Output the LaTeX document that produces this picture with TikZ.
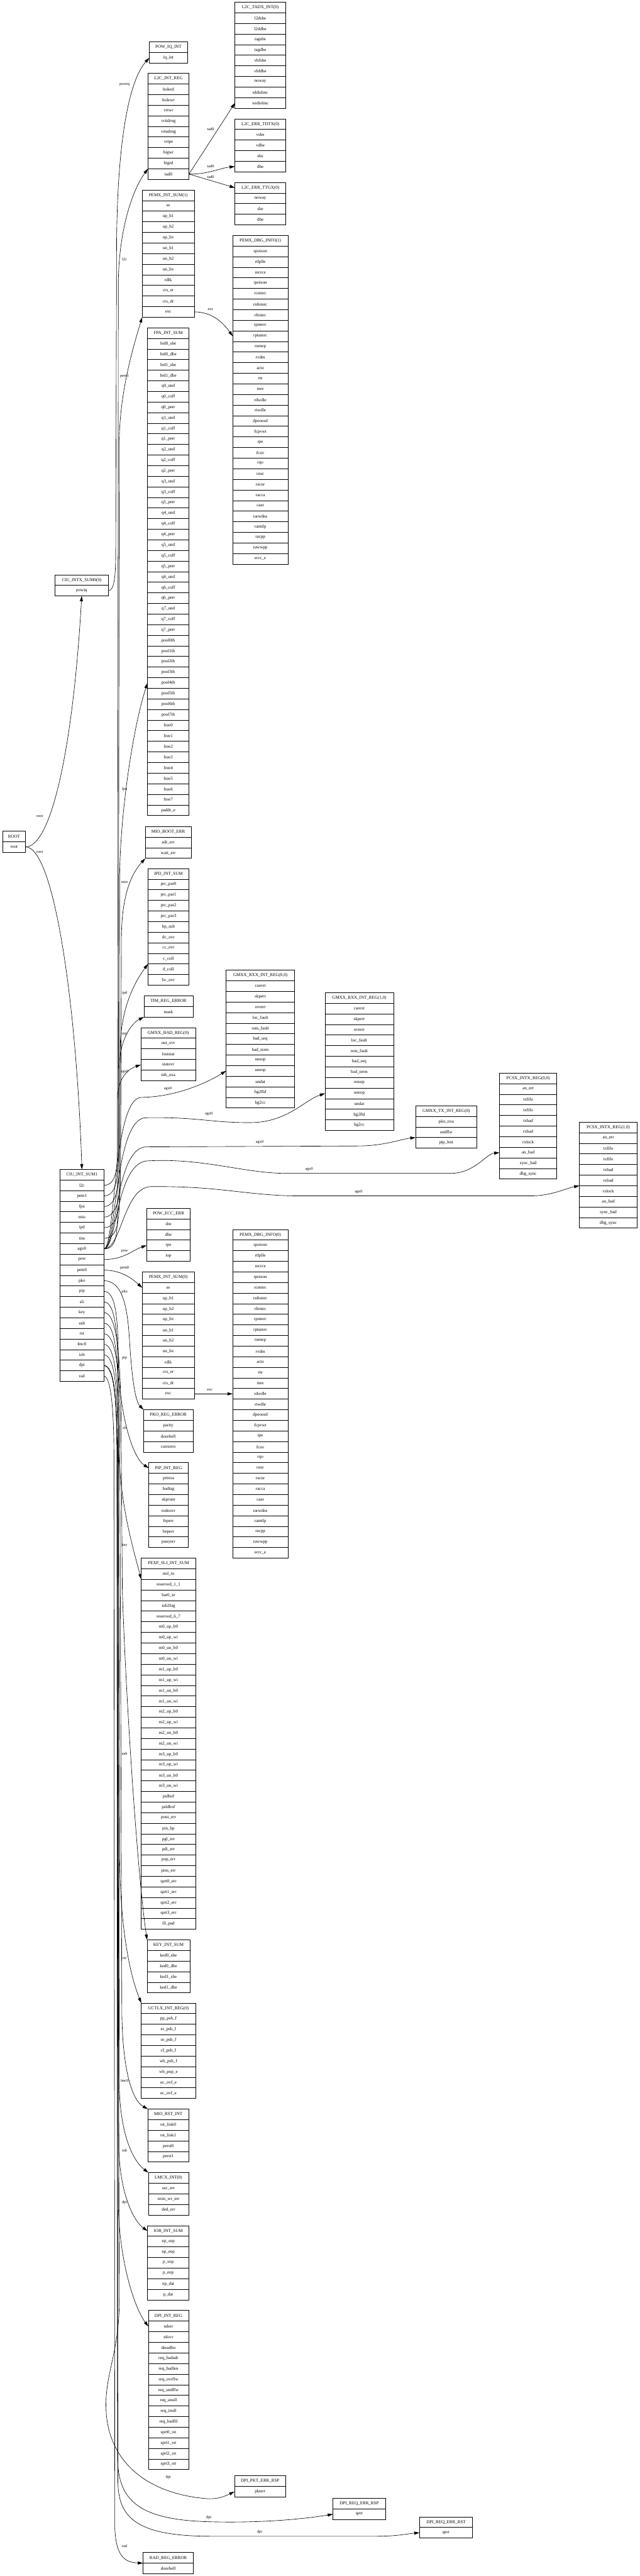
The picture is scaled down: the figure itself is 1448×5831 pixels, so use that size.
\documentclass[tikz,border=0pt]{standalone}
\usepackage{fontspec}
\setmainfont{Liberation Serif}
\usetikzlibrary{arrows.meta}

% record box: name, top-left corner, width, header, fields
\newcommand\regnode[5]{%
  \node[field,minimum width=#3pt,anchor=north west] (#1-0) at (#2) {#4};
  \foreach \f [count=\i] in {#5}{%
    \pgfmathtruncatemacro\prv{\i-1}%
    \node[field,minimum width=#3pt,anchor=north] (#1-\i) at (#1-\prv.south) {\f};
  }%
}

\begin{document}
\begin{tikzpicture}[
  x=1pt,y=-1pt,
  field/.style={draw,line width=1.1pt,inner sep=0pt,outer sep=0pt,minimum height=24pt,
    font=\fontsize{10}{12}\selectfont},
  wire/.style={draw,line width=.9pt,-{Triangle[length=12pt,width=7pt]}},
  wlbl/.style={font=\fontsize{9}{10}\selectfont,inner sep=0pt}
]
  \path[use as bounding box,fill=white] (0,0) rectangle (1448,5831);

  \regnode{root}{6,1881}{52}{ROOT}{root}
  \regnode{ciu0}{125,1301}{120}{CIU\_INTX\_SUM0(0)}{powiq}
  \regnode{ciu1}{136,2647}{99}{CIU\_INT\_SUM1}{l2c,pem1,fpa,mio,ipd,tim,agx0,pow,pem0,pko,pip,sli,key,usb,rst,lmc0,iob,dpi,rad}

  \regnode{powiq}{338,95}{87}{POW\_IQ\_INT}{iq\_int}
  \regnode{l2c}{335,166}{93}{L2C\_INT\_REG}{holerd,holewr,vrtwr,vrtidrng,vrtadrng,vrtpe,bigwr,bigrd,tad0}
  \regnode{tadx}{532,5}{115}{L2C\_TADX\_INT(0)}{l2dsbe,l2ddbe,tagsbe,tagdbe,vbfsbe,vbfdbe,noway,rddislmc,wrdislmc}
  \regnode{tdtx}{532,269}{115}{L2C\_ERR\_TDTX(0)}{vsbe,vdbe,sbe,dbe}
  \regnode{ttgx}{532,413}{115}{L2C\_ERR\_TTGX(0)}{noway,sbe,dbe}
  \regnode{pemi1}{322,430}{118}{PEMX\_INT\_SUM(1)}{se,up\_b1,up\_b2,up\_bx,un\_b1,un\_b2,un\_bx,rdlk,crs\_er,crs\_dr,exc}
  \regnode{pemd1}{527,533}{125}{PEMX\_DBG\_INFO(1)}{spoison,rtlplle,recrce,rpoison,rcemrc,rnfemrc,rfemrc,rpmerc,rptamrc,rumep,rvdm,acto,rte,mre,rdwdle,rtwdle,dpeoosd,fcpvwt,rpe,fcuv,rqo,rauc,racur,racca,caar,rarwdns,ramtlp,racpp,rawwpp,ecrc\_e}
  \regnode{fpa}{334,742}{94}{FPA\_INT\_SUM}{fed0\_sbe,fed0\_dbe,fed1\_sbe,fed1\_dbe,q0\_und,q0\_coff,q0\_perr,q1\_und,q1\_coff,q1\_perr,q2\_und,q2\_coff,q2\_perr,q3\_und,q3\_coff,q3\_perr,q4\_und,q4\_coff,q4\_perr,q5\_und,q5\_coff,q5\_perr,q6\_und,q6\_coff,q6\_perr,q7\_und,q7\_coff,q7\_perr,pool0th,pool1th,pool2th,pool3th,pool4th,pool5th,pool6th,pool7th,free0,free1,free2,free3,free4,free5,free6,free7,paddr\_e}
  \regnode{mioboot}{329,1871}{104}{MIO\_BOOT\_ERR}{adr\_err,wait\_err}
  \regnode{ipd}{335,1966}{93}{IPD\_INT\_SUM}{prc\_par0,prc\_par1,prc\_par2,prc\_par3,bp\_sub,dc\_ovr,cc\_ovr,c\_coll,d\_coll,bc\_ovr}
  \regnode{tim}{326,2254}{111}{TIM\_REG\_ERROR}{mask}
  \regnode{gbad}{319,2326}{124}{GMXX\_BAD\_REG(0)}{out\_ovr,loststat,statovr,inb\_nxa}
  \regnode{gmxrx0}{512,2196}{155}{GMXX\_RXX\_INT\_REG(0,0)}{carext,skperr,ovrerr,loc\_fault,rem\_fault,bad\_seq,bad\_term,unsop,uneop,undat,hg2fld,hg2cc}
  \regnode{gmxrx1}{736,2247}{155}{GMXX\_RXX\_INT\_REG(1,0)}{carext,skperr,ovrerr,loc\_fault,rem\_fault,bad\_seq,bad\_term,unsop,uneop,undat,hg2fld,hg2cc}
  \regnode{gmxtx}{941,2503}{139}{GMXX\_TX\_INT\_REG(0)}{pko\_nxa,undflw,ptp\_lost}
  \regnode{pcs0}{1131,2429}{130}{PCSX\_INTX\_REG(0,0)}{an\_err,txfifu,txfifo,txbad,rxbad,rxlock,an\_bad,sync\_bad,dbg\_sync}
  \regnode{pcs1}{1312,2540}{131}{PCSX\_INTX\_REG(1,0)}{an\_err,txfifu,txfifo,txbad,rxbad,rxlock,an\_bad,sync\_bad,dbg\_sync}
  \regnode{powecc}{332,2735}{99}{POW\_ECC\_ERR}{sbe,dbe,rpe,iop}
  \regnode{pemi0}{322,2879}{118}{PEMX\_INT\_SUM(0)}{se,up\_b1,up\_b2,up\_bx,un\_b1,un\_b2,un\_bx,rdlk,crs\_er,crs\_dr,exc}
  \regnode{pemd0}{527,2783}{125}{PEMX\_DBG\_INFO(0)}{spoison,rtlplle,recrce,rpoison,rcemrc,rnfemrc,rfemrc,rpmerc,rptamrc,rumep,rvdm,acto,rte,mre,rdwdle,rtwdle,dpeoosd,fcpvwt,rpe,fcuv,rqo,rauc,racur,racca,caar,rarwdns,ramtlp,racpp,rawwpp,ecrc\_e}
  \regnode{pko}{325,3191}{112}{PKO\_REG\_ERROR}{parity,doorbell,currzero}
  \regnode{pip}{337,3311}{89}{PIP\_INT\_REG}{prtnxa,badtag,skprunt,todoovr,feperr,beperr,punyerr}
  \regnode{sli}{320,3527}{123}{PEXP\_SLI\_INT\_SUM}{rml\_to,reserved\_1\_1,bar0\_to,iob2big,reserved\_6\_7,m0\_up\_b0,m0\_up\_wi,m0\_un\_b0,m0\_un\_wi,m1\_up\_b0,m1\_up\_wi,m1\_un\_b0,m1\_un\_wi,m2\_up\_b0,m2\_up\_wi,m2\_un\_b0,m2\_un\_wi,m3\_up\_b0,m3\_up\_wi,m3\_un\_b0,m3\_un\_wi,pidbof,psldbof,pout\_err,pin\_bp,pgl\_err,pdi\_err,pop\_err,pins\_err,sprt0\_err,sprt1\_err,sprt2\_err,sprt3\_err,ill\_pad}
  \regnode{key}{333,4391}{97}{KEY\_INT\_SUM}{ked0\_sbe,ked0\_dbe,ked1\_sbe,ked1\_dbe}
  \regnode{uctl}{320,4534}{123}{UCTLX\_INT\_REG(0)}{pp\_psh\_f,er\_psh\_f,or\_psh\_f,cf\_psh\_f,wb\_psh\_f,wb\_pop\_e,oc\_ovf\_e,ec\_ovf\_e}
  \regnode{miorst}{335,4774}{92}{MIO\_RST\_INT}{rst\_link0,rst\_link1,perst0,perst1}
  \regnode{lmc}{336,4918}{91}{LMCX\_INT(0)}{sec\_err,nxm\_wr\_err,ded\_err}
  \regnode{iob}{334,5038}{94}{IOB\_INT\_SUM}{np\_sop,np\_eop,p\_sop,p\_eop,np\_dat,p\_dat}
  \regnode{dpi}{336,5230}{91}{DPI\_INT\_REG}{nderr,nfovr,dmadbo,req\_badadr,req\_badlen,req\_ovrflw,req\_undflw,req\_anull,req\_inull,req\_badfil,sprt0\_rst,sprt1\_rst,sprt2\_rst,sprt3\_rst}
  \regnode{pkterr}{531,5604}{116}{DPI\_PKT\_ERR\_RSP}{pkterr}
  \regnode{reqrsp}{754,5655}{119}{DPI\_REQ\_ERR\_RSP}{qerr}
  \regnode{reqrst}{950,5697}{120}{DPI\_REQ\_ERR\_RST}{qerr}
  \regnode{rad}{324,5778}{114}{RAD\_REG\_ERROR}{doorbell}

  \draw[wire] (root-1.east) .. controls (115,1917) and (165,1700) .. (ciu0-1.south);
  \draw[wire] (root-1.east) .. controls (120,1917) and (172,2250) .. (ciu1-0.north);
  \draw[wire] (ciu0-1.east) .. controls (258,1337) and (262,1310) .. (262,1250)
    -- (264,560) .. controls (265,330) and (290,185) .. (powiq-1.west);
  \draw[wire] (ciu1-1.east) .. controls (258,2683) and (266,2660) .. (266,2600)
    -- (268,640) .. controls (269,520) and (300,430) .. (l2c-8.south west);
  \draw[wire] (ciu1-2.east) .. controls (258,2707) and (268,2680) .. (268,2620)
    -- (270,1000) .. controls (271,890) and (300,790) .. (pemi1-11.south west);
  \draw[wire] (ciu1-3.east) .. controls (258,2731) and (270,2700) .. (270,2640)
    -- (271,1990) .. controls (271,1850) and (300,1650) .. (fpa-33.west);
  \draw[wire] (ciu1-4.east) .. controls (260,2755) and (273,2720) .. (273,2660)
    -- (275,2120) .. controls (276,2020) and (300,1975) .. (mioboot-2.south west);
  \draw[wire] (ciu1-5.east) .. controls (260,2779) and (272,2750) .. (272,2690)
    -- (272,2380) .. controls (272,2290) and (300,2230) .. (ipd-8.south west);
  \draw[wire] (ciu1-6.east) .. controls (260,2803) and (270,2780) .. (270,2720)
    -- (270,2420) .. controls (270,2350) and (300,2315) .. (tim-1.south west);
  \draw[wire] (ciu1-7.east) .. controls (262,2827) and (266,2800) .. (266,2740)
    -- (266,2490) .. controls (266,2440) and (290,2420) .. (gbad-3.west);
  \draw[wire] (ciu1-7.east) .. controls (262,2827) and (255,2485) .. (320,2484)
    .. controls (400,2483) and (470,2450) .. (gmxrx0-9.west);
  \draw[wire] (ciu1-7.east) .. controls (265,2827) and (258,2532) .. (330,2530)
    .. controls (450,2528) and (480,2542) .. (570,2541)
    .. controls (650,2540) and (690,2490) .. (gmxrx1-9.west);
  \draw[wire] (ciu1-7.east) .. controls (265,2827) and (260,2600) .. (330,2596)
    -- (810,2594) .. controls (870,2594) and (910,2578) .. (gmxtx-2.south west);
  \draw[wire] (ciu1-7.east) .. controls (265,2827) and (262,2640) .. (330,2628)
    .. controls (460,2620) and (550,2656) .. (650,2656)
    -- (1020,2656) .. controls (1075,2656) and (1100,2612) .. (pcs0-7.west);
  \draw[wire] (ciu1-7.east) .. controls (275,2827) and (280,2690) .. (340,2686)
    .. controls (500,2684) and (560,2707) .. (680,2707)
    -- (1200,2707) .. controls (1250,2707) and (1280,2690) .. (pcs1-5.south west);
  \draw[wire] (ciu1-8.east) .. controls (280,2851) and (300,2830) .. (powecc-3.west);
  \draw[wire] (ciu1-9.east) .. controls (270,2875) and (295,2890) .. (pemi0-1.west);
  \draw[wire] (ciu1-10.east) .. controls (275,2899) and (288,2950) .. (293,3030)
    .. controls (298,3110) and (305,3170) .. (pko-0.north west);
  \draw[wire] (ciu1-11.east) .. controls (262,2923) and (267,2980) .. (268,3080)
    .. controls (270,3200) and (300,3300) .. (pip-0.west);
  \draw[wire] (ciu1-12.east) .. controls (258,2947) and (266,3000) .. (267,3100)
    -- (268,3260) .. controls (270,3400) and (300,3500) .. (sli-1.south west);
  \draw[wire] (ciu1-13.east) .. controls (262,2971) and (272,3050) .. (274,3200)
    -- (277,3600) .. controls (285,3850) and (312,4250) .. (key-0.north west);
  \draw[wire] (ciu1-14.east) .. controls (260,2995) and (268,3060) .. (268,3200)
    -- (271,4200) .. controls (272,4380) and (298,4480) .. (uctl-0.north west);
  \draw[wire] (ciu1-15.east) .. controls (262,3019) and (270,3100) .. (271,3200)
    -- (276,4560) .. controls (278,4690) and (300,4755) .. (miorst-0.north west);
  \draw[wire] (ciu1-16.east) .. controls (260,3043) and (268,3120) .. (268,3250)
    -- (270,4720) .. controls (272,4830) and (300,4890) .. (lmc-0.north west);
  \draw[wire] (ciu1-17.east) .. controls (260,3067) and (267,3140) .. (267,3300)
    -- (269,4860) .. controls (271,4960) and (300,5025) .. (iob-0.west);
  \draw[wire] (ciu1-18.east) .. controls (258,3091) and (265,3160) .. (265,3300)
    -- (268,4990) .. controls (270,5120) and (305,5225) .. (dpi-1.west);
  \draw[wire] (ciu1-18.east) .. controls (258,3091) and (265,3160) .. (265,3300)
    -- (270,5200) .. controls (272,5320) and (238,5370) .. (240,5450)
    .. controls (243,5570) and (330,5645) .. (470,5656)
    .. controls (495,5657) and (510,5650) .. (pkterr-1.west);
  \draw[wire] (ciu1-18.east) .. controls (258,3091) and (265,3160) .. (265,3300)
    -- (266,5560) .. controls (267,5650) and (300,5703) .. (470,5708)
    .. controls (600,5712) and (700,5700) .. (reqrsp-1.west);
  \draw[wire] (ciu1-18.east) .. controls (258,3091) and (265,3160) .. (265,3300)
    -- (267,5620) .. controls (269,5700) and (310,5741) .. (480,5741)
    -- (850,5741) .. controls (900,5741) and (925,5735) .. (reqrst-1.west);
  \draw[wire] (ciu1-19.east) .. controls (250,3115) and (258,3180) .. (258,3300)
    -- (260,5720) .. controls (262,5790) and (285,5800) .. (rad-0.south west);
  \draw[wire] (l2c-9.east) -- (tadx-9.west);
  \draw[wire] (l2c-9.east) .. controls (470,395) and (500,380) .. (tdtx-4.west);
  \draw[wire] (l2c-9.east) -- (ttgx-0.west);
  \draw[wire] (pemi1-11.east) .. controls (480,706) and (505,730) .. (pemd1-9.west);
  \draw[wire] (pemi0-11.east) -- (pemd0-15.west);

  \foreach \nm/\x/\y/\t in {r0/90/1848/root,r1/90/1928/root,pq/282/191/powiq,
      l2/282/587/l2c,p1/282/851/pem1,fp/282/1787/fpa,mi/282/1996/mio,ip/282/2248/ipd,
      ti/282/2340/tim,ag/282/2426/agx0,ga/380/2464/agx0,gb/473/2521/agx0,
      gc/588/2586/agx0,gd/700/2647/agx0,ge/812/2698/agx0,po/282/2833/pow,
      p0/282/2870/pem0,pk/282/2924/pko,pi/282/3074/pip,sl/282/3232/sli,
      ke/282/3497/key,us/282/3969/usb,rs/282/4432/rst,lm/282/4710/lmc0,
      io/282/4867/iob,dp/282/4985/dpi,da/381/5607/dpi,db/473/5699/dpi,
      dc/588/5731/dpi,ra/282/5763/rad,ta/477/292/tad0,tb/477/376/tad0,
      tc/477/401/tad0,x1/477/700/exc,x0/475/3146/exc}
    \node[wlbl] (lb-\nm) at (\x,\y) {\t};
\end{tikzpicture}
\end{document}
